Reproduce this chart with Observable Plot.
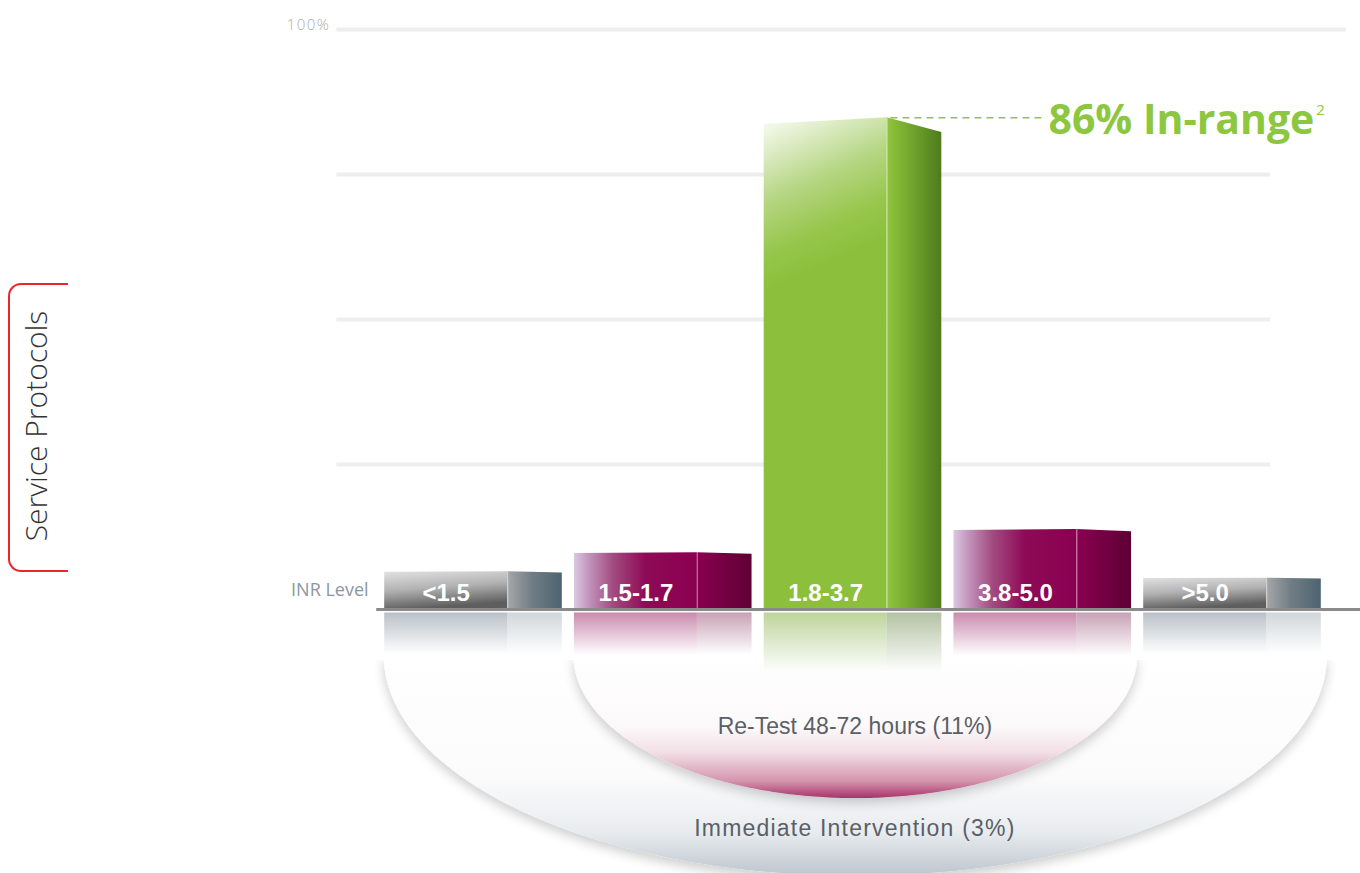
<!DOCTYPE html>
<html><head><meta charset="utf-8">
<script src="https://cdn.jsdelivr.net/npm/d3@7"></script>
<script src="https://cdn.jsdelivr.net/npm/@observablehq/plot@0.6"></script>
<style>
html,body{margin:0;padding:0;background:#fff}
body{width:1360px;height:873px;overflow:hidden;position:relative;font-family:"Liberation Sans",Arial,sans-serif}
#chart{position:absolute;left:0;top:0}
#bracket{position:absolute;left:8px;top:283px;width:60px;height:289px;border:2px solid #e8262e;border-right:none;border-radius:13px 0 0 13px;box-sizing:border-box}
#side{position:absolute;left:35px;top:426px;transform:translate(-50%,-50%) rotate(-90deg);font-family:"Open Sans",sans-serif;font-weight:300;font-size:30px;color:#333;white-space:nowrap}
</style></head><body>
<div id="chart"></div>
<div id="bracket"></div>
<div id="side">Service Protocols</div>
<script>
// ---- data ----
const categories = ["<1.5", "1.5-1.7", "1.8-3.7", "3.8-5.0", ">5.0"];
const shares = [6.5, 9.8, 84.8, 13.8, 5.4];          // % of INR readings (bar heights as drawn)
const bands = ["out", "near", "in", "near", "out"];  // colour family of each bar
const protocolNames = ["Re-Test 48-72 hours (11%)", "Immediate Intervention (3%)"];
const protocolMembers = [["1.5-1.7", "3.8-5.0"], ["<1.5", ">5.0"]];
const headline = "86% In-range";
const headlineNote = "2";
const gridValues = [25, 50, 75, 100];
const axisTitle = "INR Level";

// ---- geometry (style) ----
const half = 0.468, split = 0.18;
const rim = -8, bowlDepth = [24.6, 38], protoTextY = [-20.2, -37.7];

const rows = categories.map((c, i) => ({c, i, v: shares[i], b: bands[i]}));
const inIdx = bands.indexOf("in");
const frontPts = rows.flatMap(d => [
  {i: d.i, b: d.b, x: d.i - half, y: d.v * 0.986},
  {i: d.i, b: d.b, x: d.i + split, y: d.v}
]);
const sidePts = rows.flatMap(d => [
  {i: d.i, b: d.b, x: d.i + split, y: d.v},
  {i: d.i, b: d.b, x: d.i + half, y: d.v * 0.97}
]);

function bowl(k) {
  const idx = protocolMembers[k].map(c => categories.indexOf(c));
  const lo = d3.min(idx) - 0.47, hi = d3.max(idx) + 0.5;
  const cx = (lo + hi) / 2, rx = (hi - lo) / 2;
  return d3.range(0, 241).map(t => {
    const th = Math.PI * (1 - t / 240);
    return {k, x: cx + rx * Math.cos(th), top: rim, y: rim - bowlDepth[k] * Math.sin(th)};
  });
}
const protoLabels = protocolNames.map((name, k) => {
  const idx = protocolMembers[k].map(c => categories.indexOf(c));
  return {name, x: (d3.min(idx) + d3.max(idx)) / 2 + 0.01, y: protoTextY[k]};
});

const svg = Plot.plot({
  width: 1360, height: 873,
  x: {domain: [0, 4], range: [473, 1232], axis: null},
  y: {domain: [0, 100], range: [609, 29], axis: null},
  color: {type: "identity"},
  style: {background: "transparent", overflow: "visible"},
  marks: [
    Plot.ruleY(gridValues, {x1: -0.72, x2: d => d === 100 ? 4.6 : 4.2, stroke: "#eeeeee", strokeWidth: 4}),
    Plot.text(gridValues.filter(d => d === 100), {x: -0.754, y: d => d, dy: -4, text: d => d + "%", textAnchor: "end", fill: "#adadad", fontSize: 15, fontFamily: "Open Sans", fontWeight: 300, ariaDescription: "pct"}),
    Plot.areaY(bowl(1), {x: "x", y1: "top", y2: "y", fill: d => "url(#bowl-gray)", ariaDescription: "bowl"}),
    Plot.areaY(bowl(0), {x: "x", y1: "top", y2: "y", fill: d => "url(#bowl-pink)", ariaDescription: "bowl"}),
    Plot.rectY(rows, {x1: d => d.i - half, x2: d => d.i + split, y1: -0.6, y2: d => -(7.5 + d.v * 0.04), fill: d => `url(#refl-${d.b})`}),
    Plot.rectY(rows, {x1: d => d.i + split, x2: d => d.i + half, y1: -0.6, y2: d => -(7.5 + d.v * 0.04), fill: d => `url(#reflside-${d.b})`}),
    Plot.areaY(frontPts, {x: "x", y1: 0, y2: "y", z: "i", fill: d => `url(#front-${d.b})`}),
    Plot.areaY(sidePts, {x: "x", y1: 0, y2: "y", z: "i", fill: d => `url(#side-${d.b})`}),
    Plot.ruleX(rows, {x: d => d.i + split, y1: 0, y2: "v", stroke: "#ffffff", strokeOpacity: 0.4, strokeWidth: 1.2}),
    Plot.ruleY([0], {x1: -0.51, x2: 4.7, stroke: "#8a8a8a", strokeWidth: 3}),
    Plot.text(rows, {x: d => d.i - 0.144, y: 0, dy: -16, text: "c", fill: "#ffffff", fontSize: 24, fontWeight: "bold", fontFamily: "Liberation Sans"}),
    Plot.text([axisTitle], {x: -0.553, y: 0, dy: -19, text: d => d, textAnchor: "end", fill: "#8a97a2", fontSize: 18, fontFamily: "Open Sans"}),
    Plot.ruleY([shares[inIdx]], {x1: inIdx + 0.2, x2: inIdx + 1.0, stroke: "#8dc63f", strokeWidth: 1.5, strokeDasharray: "7,5"}),
    Plot.text([headline], {x: inIdx + 1.03, y: shares[inIdx], dy: 3, text: d => d, textAnchor: "start", fill: "#8dc63f", fontSize: 41, fontWeight: 700, fontFamily: "Open Sans", ariaDescription: "headline"}),
    Plot.text(protoLabels, {x: "x", y: "y", text: "name", fill: "#5a6066", fontSize: 23, fontFamily: "Liberation Sans", ariaDescription: "proto"})
  ]
});

const defs = `
<filter id="shadow" x="-10%" y="0%" width="120%" height="125%">
  <feGaussianBlur in="SourceAlpha" stdDeviation="6" result="b"/>
  <feOffset in="b" dx="0" dy="5" result="o"/>
  <feComponentTransfer in="o" result="s"><feFuncA type="linear" slope="0.2"/></feComponentTransfer>
  <feMerge><feMergeNode in="s"/><feMergeNode in="SourceGraphic"/></feMerge>
</filter>
<linearGradient id="bowl-gray" x1="0" y1="0" x2="0" y2="1">
  <stop offset="0" stop-color="#ffffff"/><stop offset="0.55" stop-color="#fbfbfc"/>
  <stop offset="0.8" stop-color="#e9ecef"/><stop offset="1" stop-color="#bcc5ce"/></linearGradient>
<linearGradient id="bowl-pink" x1="0" y1="0" x2="0" y2="1">
  <stop offset="0" stop-color="#ffffff"/><stop offset="0.5" stop-color="#fcf9fa"/>
  <stop offset="0.68" stop-color="#f2dfe5"/><stop offset="0.88" stop-color="#d495ad"/>
  <stop offset="1" stop-color="#a8336a"/></linearGradient>
<linearGradient id="front-out" x1="0" y1="0" x2="0.25" y2="1">
  <stop offset="0" stop-color="#e2e2e2"/><stop offset="0.5" stop-color="#b2b2b2"/><stop offset="1" stop-color="#5e5e5e"/></linearGradient>
<linearGradient id="side-out" x1="0" y1="0" x2="1" y2="0">
  <stop offset="0" stop-color="#a6a8aa"/><stop offset="0.45" stop-color="#717d85"/><stop offset="1" stop-color="#4d6470"/></linearGradient>
<linearGradient id="front-near" x1="0" y1="0" x2="1" y2="0">
  <stop offset="0" stop-color="#dcc8e2"/><stop offset="0.12" stop-color="#c295bc"/>
  <stop offset="0.32" stop-color="#a24a80"/><stop offset="0.58" stop-color="#8e0a56"/><stop offset="1" stop-color="#8a0050"/></linearGradient>
<linearGradient id="side-near" x1="0" y1="0" x2="1" y2="0">
  <stop offset="0" stop-color="#8a0050"/><stop offset="1" stop-color="#5e0034"/></linearGradient>
<linearGradient id="front-in" x1="0" y1="0" x2="0.04" y2="0.35">
  <stop offset="0" stop-color="#fbfdf6"/><stop offset="0.2" stop-color="#dfedc9"/>
  <stop offset="0.5" stop-color="#b4d581"/><stop offset="0.8" stop-color="#96c64b"/><stop offset="1" stop-color="#8cc03c"/></linearGradient>
<linearGradient id="side-in" x1="0" y1="0" x2="1" y2="0">
  <stop offset="0" stop-color="#93c543"/><stop offset="0.15" stop-color="#86bb36"/><stop offset="1" stop-color="#4e7c1e"/></linearGradient>
<linearGradient id="refl-out" x1="0" y1="0" x2="0" y2="1">
  <stop offset="0" stop-color="#a7b1ba" stop-opacity="0.8"/><stop offset="1" stop-color="#a7b1ba" stop-opacity="0"/></linearGradient>
<linearGradient id="reflside-out" x1="0" y1="0" x2="0" y2="1">
  <stop offset="0" stop-color="#b8c0c6" stop-opacity="0.65"/><stop offset="1" stop-color="#b8c0c6" stop-opacity="0"/></linearGradient>
<linearGradient id="refl-near" x1="0" y1="0" x2="0" y2="1">
  <stop offset="0" stop-color="#c47ea4" stop-opacity="0.9"/><stop offset="1" stop-color="#c47ea4" stop-opacity="0"/></linearGradient>
<linearGradient id="reflside-near" x1="0" y1="0" x2="0" y2="1">
  <stop offset="0" stop-color="#b98aa3" stop-opacity="0.8"/><stop offset="1" stop-color="#b98aa3" stop-opacity="0"/></linearGradient>
<linearGradient id="refl-in" x1="0" y1="0" x2="0" y2="1">
  <stop offset="0" stop-color="#a8c67a" stop-opacity="0.75"/><stop offset="1" stop-color="#a8c67a" stop-opacity="0"/></linearGradient>
<linearGradient id="reflside-in" x1="0" y1="0" x2="0" y2="1">
  <stop offset="0" stop-color="#9aae84" stop-opacity="0.75"/><stop offset="1" stop-color="#9aae84" stop-opacity="0"/></linearGradient>
`;
const root = d3.select(svg);
root.insert("defs", ":first-child").html(defs);
root.selectAll('g[aria-description="bowl"] path').attr("filter", "url(#shadow)");
root.selectAll('g[aria-description="proto"] text').filter((d, i) => i === 1).style("letter-spacing", "1.2px");
root.selectAll('g[aria-description="pct"] text').style("letter-spacing", "1.5px");
root.selectAll('g[aria-description="headline"] text').append("tspan")
  .attr("dy", "-19").attr("dx", 2).style("font-size", "15px").style("font-weight", 400).text(headlineNote);
document.getElementById("chart").appendChild(svg);
</script>
</body></html>
